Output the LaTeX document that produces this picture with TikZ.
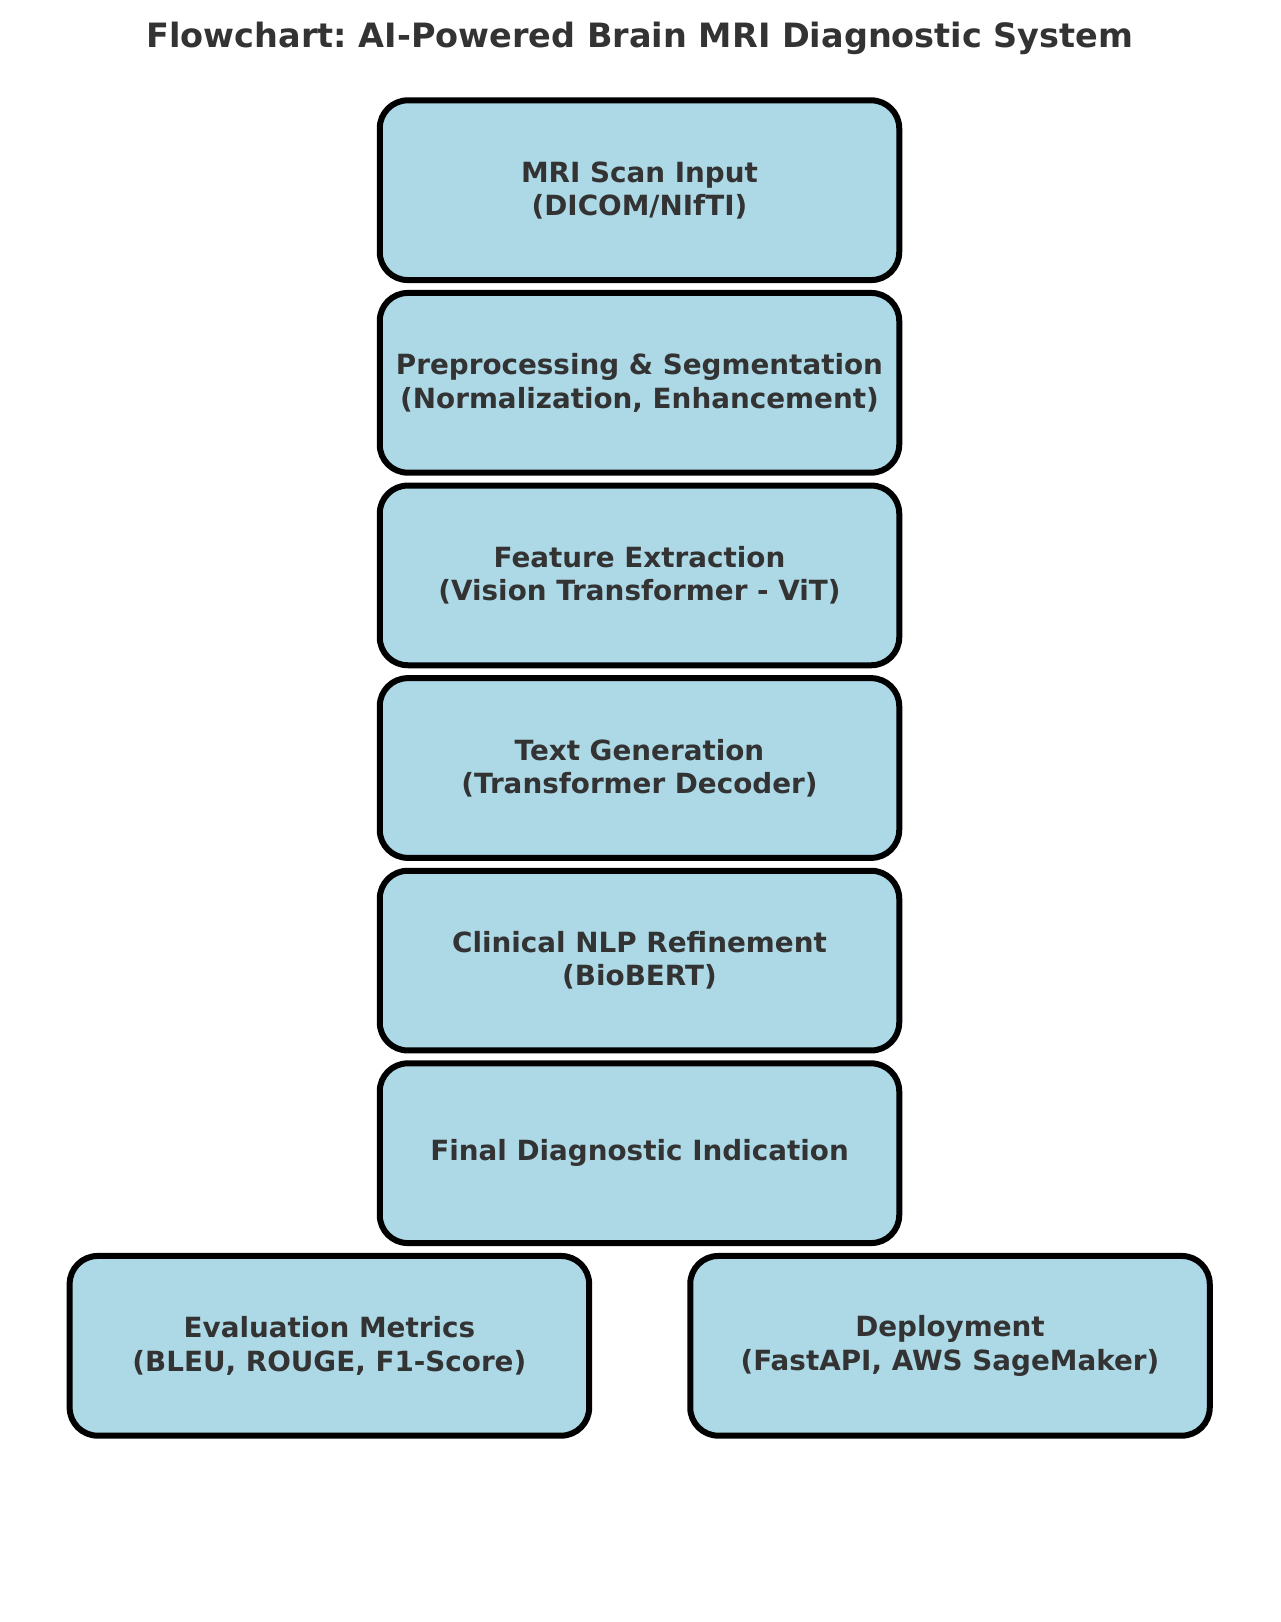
\documentclass[tikz,border=0pt]{standalone}
\usepackage{fontspec}
\setmainfont{DejaVu Sans}
\usepackage{xcolor}
\definecolor{boxblue}{HTML}{ADD8E6}
\definecolor{txtgray}{HTML}{333333}
\frenchspacing

\begin{document}
\begin{tikzpicture}[x=1pt, y=-1pt, text=txtgray,
        stage/.style={draw=black, line width=6pt, fill=boxblue, rounded corners=28pt,
            minimum width=519.5pt, minimum height=179.7pt, inner sep=0pt, outer sep=0pt,
            align=center, font=\fontsize{27.8}{33.3}\selectfont\bfseries}]
        \useasboundingbox (0,0) rectangle (1280,1622);
        \node[anchor=base, font=\fontsize{33.5}{40}\selectfont\bfseries] (title) at (640,47) {Flowchart: AI-Powered Brain MRI Diagnostic System};
        \node[stage] (input) at (639.5,190.2) {MRI Scan Input\\(DICOM/NIfTI)};
        \node[stage] (prep) at (639.5,382.8) {Preprocessing \& Segmentation\\(Normalization, Enhancement)};
        \node[stage] (feat) at (639.5,575.4) {Feature Extraction\\(Vision Transformer - ViT)};
        \node[stage] (textgen) at (639.5,768.0) {Text Generation\\(Transformer Decoder)};
        \node[stage] (nlp) at (639.5,960.6) {Clinical NLP Refinement\\(BioBERT)};
        \node[stage] (final) at (639.5,1153.2) {Final Diagnostic Indication};
        \node[stage] (eval) at (329.4,1345.8) {Evaluation Metrics\\(BLEU, ROUGE, F1-Score)};
        \node[stage] (deploy) at (950,1345.8) {Deployment\\(FastAPI, AWS SageMaker)};
    \end{tikzpicture}
\end{document}
